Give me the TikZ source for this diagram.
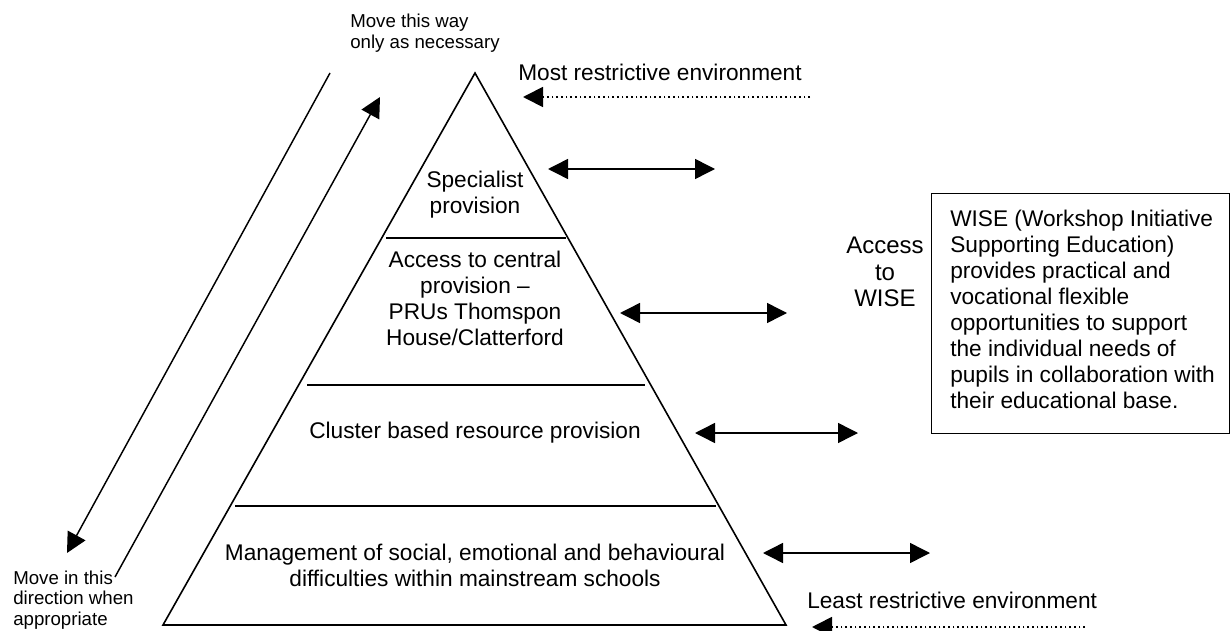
\documentclass[tikz,border=0pt]{standalone}
\usepackage{fontspec}
\setmainfont{Liberation Sans}
\usetikzlibrary{arrows.meta}
\begin{document}
\begin{tikzpicture}[x=0.75pt,y=-0.75pt,
  every node/.style={inner sep=0pt},
  body/.style={font=\fontsize{17}{19.5}\selectfont, align=center},
  note/.style={font=\fontsize{14}{15.5}\selectfont, align=left},
  big/.style={font=\fontsize{18}{20}\selectfont, align=center},
  outline/.style={line width=1.2pt, line join=miter},
  layer/.style={line width=1.4pt},
  twoway/.style={line width=1.1pt, {Triangle[length=15pt,width=15pt]}-{Triangle[length=15pt,width=15pt]}},
  oneway/.style={line width=1.1pt, -{Triangle[length=15pt,width=15pt]}},
  dots/.style={line width=1.3pt, dash pattern=on 1.3pt off 2.2pt, -{Triangle[length=15pt,width=15pt]}},
]
\useasboundingbox (0,0) rectangle (1231,631);
\clip (0,0) rectangle (1231,631);

% pyramid outline
\coordinate (apex) at (475,73);
\coordinate (bl) at (163,625);
\coordinate (br) at (786,625);
\draw[outline] (apex) -- (bl) -- (br) -- cycle;

% layer dividers
\coordinate (d1l) at (386,238); \coordinate (d1r) at (566,238);
\coordinate (d2l) at (307,385); \coordinate (d2r) at (645,385);
\coordinate (d3l) at (235,506); \coordinate (d3r) at (716,506);
\draw[layer] (d1l) -- (d1r);
\draw[layer] (d2l) -- (d2r);
\draw[layer] (d3l) -- (d3r);

% layer labels
\node[body] (spec) at (475,195) {Specialist\\provision};
\node[body] (central) at (475,298) {Access to central\\provision --\\PRUs Thomspon\\House/Clatterford};
\node[body] (cluster) at (475,433) {Cluster based resource provision};
\node[body] (mgmt) at (475,565) {Management of social, emotional and behavioural\\difficulties within mainstream schools};

% two-way links beside each layer
\coordinate (a1l) at (548,169); \coordinate (a1r) at (715,169);
\coordinate (a2l) at (620,313); \coordinate (a2r) at (787,313);
\coordinate (a3l) at (695,433); \coordinate (a3r) at (858,433);
\coordinate (a4l) at (763,553); \coordinate (a4r) at (930,553);
\draw[twoway] (a1l) -- (a1r);
\draw[twoway] (a2l) -- (a2r);
\draw[twoway] (a3l) -- (a3r);
\draw[twoway] (a4l) -- (a4r);

% restrictiveness scale
\node[body, anchor=west] (most) at (518,72) {Most restrictive environment};
\coordinate (mtip) at (523,97); \coordinate (mend) at (810,97);
\draw[dots] (mend) -- (mtip);
\node[body, anchor=west] (least) at (807,600) {Least restrictive environment};
\coordinate (ltip) at (812,627); \coordinate (lend) at (1085,627);
\draw[dots] (lend) -- (ltip);

% movement arrows on the left
\node[note, anchor=west] (up) at (350,33) {Move this way\\only as necessary};
\node[note, anchor=west] (down) at (13,600) {Move in this\\direction when\\appropriate};
\coordinate (dtop) at (330,73); \coordinate (dtip) at (67,553);
\draw[oneway] (dtop) -- (dtip);
\coordinate (ubot) at (115,577); \coordinate (utip) at (380,97);
\draw[oneway] (ubot) -- (utip);

% WISE access
\node[big] (access) at (885,272) {Access\\to\\WISE};
\node[draw, line width=1.1pt, anchor=north west, minimum width=223.5pt, minimum height=180pt] (wisebox) at (931,193) {};
\node[body, align=left, anchor=west] (wisetext) at (950,309) {WISE (Workshop Initiative\\Supporting Education)\\provides practical and\\vocational flexible\\opportunities to support\\the individual needs of\\pupils in collaboration with\\their educational base.};
\end{tikzpicture}
\end{document}
